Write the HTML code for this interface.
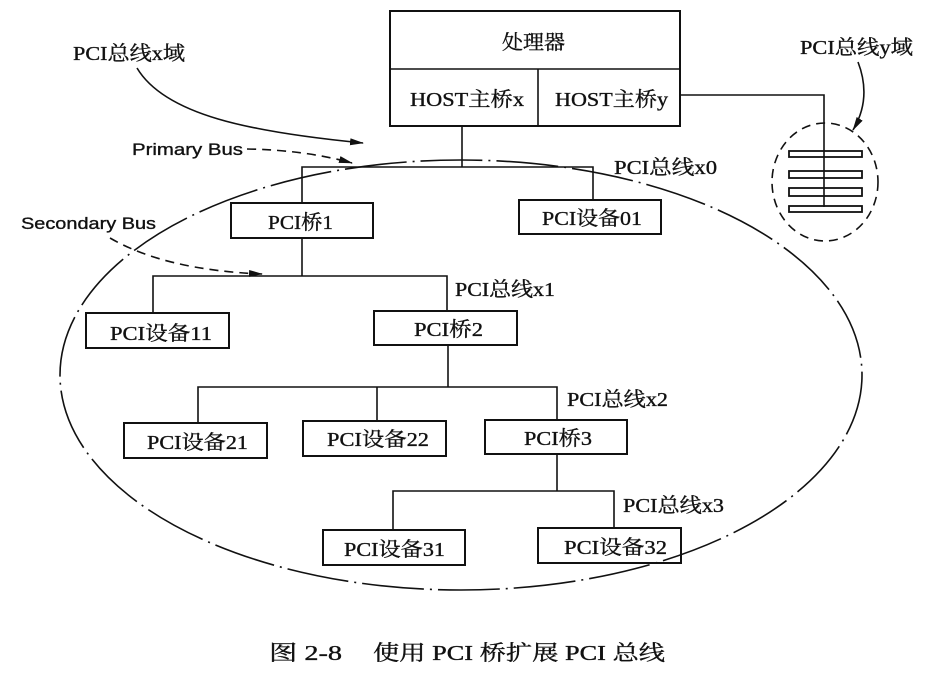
<!DOCTYPE html>
<html><head><meta charset="utf-8"><style>
html,body{margin:0;padding:0;background:#fff;}
svg{display:block;}
text{font-family:"Liberation Serif","Noto Serif CJK SC",serif;font-size:20px;fill:#111;stroke:#111;stroke-width:0.35px;}
</style></head><body>
<svg width="940" height="676" viewBox="0 0 940 676" xmlns="http://www.w3.org/2000/svg">
<defs>
<marker id="ah" markerWidth="14" markerHeight="8" refX="13" refY="4" orient="auto" markerUnits="userSpaceOnUse">
<path d="M0,0.5 L14,4 L0,7.5 Z" fill="#111"/>
</marker>
</defs>
<g fill="none" stroke="#111" stroke-width="1.6">
<ellipse cx="461" cy="375" rx="401" ry="215" stroke-width="1.6" stroke-dasharray="62 6 2 6"/>
<rect x="390" y="11" width="290" height="115" stroke-width="2"/>
<line x1="390" y1="69" x2="680" y2="69"/>
<line x1="538" y1="69" x2="538" y2="126"/>
<polyline points="680,95 824,95 824,207"/>
<rect x="789" y="151" width="73" height="6" stroke-width="1.8"/>
<rect x="789" y="171" width="73" height="7" stroke-width="1.8"/>
<rect x="789" y="188" width="73" height="8" stroke-width="1.8"/>
<rect x="789" y="206" width="73" height="6" stroke-width="1.8"/>
<ellipse cx="825" cy="182" rx="53" ry="59" stroke-dasharray="9 6"/>
<line x1="462" y1="126" x2="462" y2="167"/>
<polyline points="302,203 302,167 593,167 593,200"/>
<rect x="519" y="200" width="142" height="34" stroke-width="2"/>
<rect x="231" y="203" width="142" height="35" stroke-width="2"/>
<line x1="302" y1="238" x2="302" y2="276"/>
<polyline points="153,313 153,276 447,276 447,311"/>
<rect x="86" y="313" width="143" height="35" stroke-width="2"/>
<rect x="374" y="311" width="143" height="34" stroke-width="2"/>
<line x1="448" y1="345" x2="448" y2="387"/>
<polyline points="198,423 198,387 557,387 557,420"/>
<line x1="377" y1="387" x2="377" y2="421"/>
<rect x="124" y="423" width="143" height="35" stroke-width="2"/>
<rect x="303" y="421" width="143" height="35" stroke-width="2"/>
<rect x="485" y="420" width="142" height="34" stroke-width="2"/>
<line x1="557" y1="454" x2="557" y2="491"/>
<polyline points="393,530 393,491 614,491 614,528"/>
<rect x="323" y="530" width="142" height="35" stroke-width="2"/>
<rect x="538" y="528" width="143" height="35" stroke-width="2"/>
<path d="M137,68 C165,115 250,132 363,143" stroke-width="1.6" marker-end="url(#ah)"/>
<path d="M247,149 Q305,150 352,163" stroke-dasharray="9 6" marker-end="url(#ah)"/>
<path d="M110,238 Q165,270 262,274" stroke-dasharray="9 6" marker-end="url(#ah)"/>
<path d="M858,62 C868,88 865,110 853,130" marker-end="url(#ah)"/>
</g>
<g>
<text x="502" y="49" textLength="63" lengthAdjust="spacingAndGlyphs">处理器</text>
<text x="410" y="106" textLength="114" lengthAdjust="spacingAndGlyphs">HOST主桥x</text>
<text x="555" y="106" textLength="113" lengthAdjust="spacingAndGlyphs">HOST主桥y</text>
<text x="614" y="174" textLength="103" lengthAdjust="spacingAndGlyphs">PCI总线x0</text>
<text x="542" y="225" textLength="100" lengthAdjust="spacingAndGlyphs">PCI设备01</text>
<text x="268" y="229" textLength="65" lengthAdjust="spacingAndGlyphs">PCI桥1</text>
<text x="455" y="296" textLength="100" lengthAdjust="spacingAndGlyphs">PCI总线x1</text>
<text x="110" y="340" textLength="102" lengthAdjust="spacingAndGlyphs">PCI设备11</text>
<text x="414" y="336" textLength="69" lengthAdjust="spacingAndGlyphs">PCI桥2</text>
<text x="567" y="406" textLength="101" lengthAdjust="spacingAndGlyphs">PCI总线x2</text>
<text x="147" y="449" textLength="101" lengthAdjust="spacingAndGlyphs">PCI设备21</text>
<text x="327" y="446" textLength="102" lengthAdjust="spacingAndGlyphs">PCI设备22</text>
<text x="524" y="445" textLength="68" lengthAdjust="spacingAndGlyphs">PCI桥3</text>
<text x="623" y="512" textLength="101" lengthAdjust="spacingAndGlyphs">PCI总线x3</text>
<text x="344" y="556" textLength="101" lengthAdjust="spacingAndGlyphs">PCI设备31</text>
<text x="564" y="554" textLength="103" lengthAdjust="spacingAndGlyphs">PCI设备32</text>
<text x="73" y="60" textLength="112" lengthAdjust="spacingAndGlyphs">PCI总线x域</text>
<text x="800" y="54" textLength="113" lengthAdjust="spacingAndGlyphs">PCI总线y域</text>
<text x="132" y="155" textLength="111" lengthAdjust="spacingAndGlyphs" style="font-family:'Liberation Sans',sans-serif;font-size:17px">Primary Bus</text>
<text x="21" y="229" textLength="135" lengthAdjust="spacingAndGlyphs" style="font-family:'Liberation Sans',sans-serif;font-size:17px">Secondary Bus</text>
<text x="269" y="660" textLength="73" lengthAdjust="spacingAndGlyphs" style="font-size:21px">图 2-8</text>
<text x="373" y="660" textLength="292" lengthAdjust="spacingAndGlyphs" style="font-size:21px">使用 PCI 桥扩展 PCI 总线</text>
</g>
</svg>
</body></html>
